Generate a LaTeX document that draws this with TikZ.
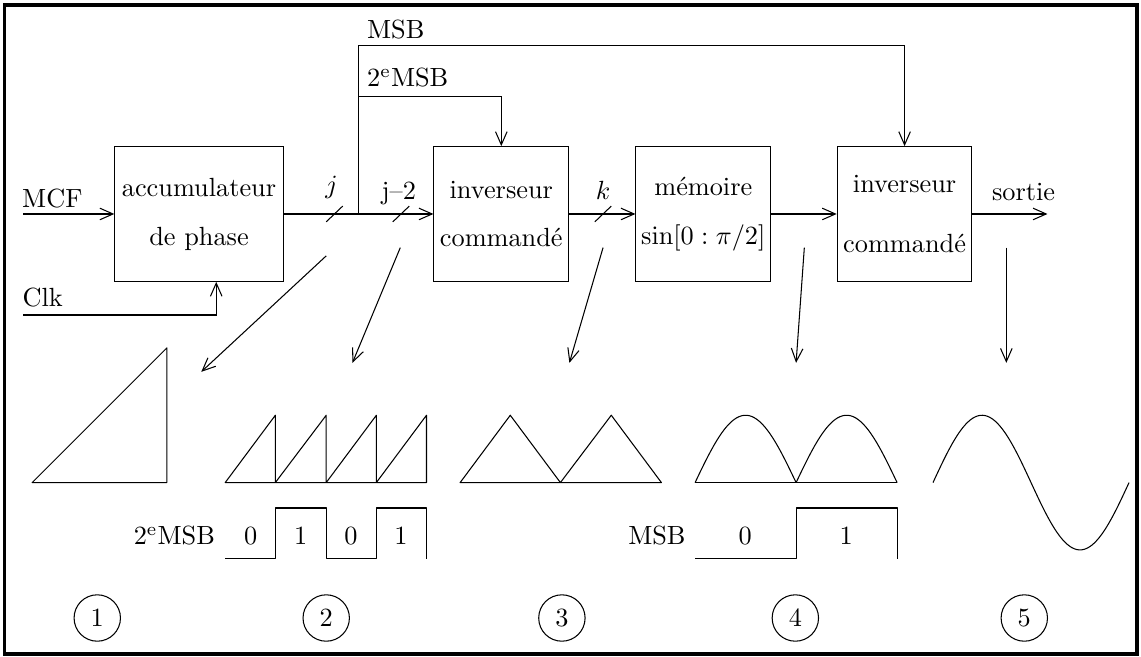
\documentclass[tikz,border=0pt]{standalone}
\usetikzlibrary{arrows.meta}
\tikzset{
    mybloc/.style = {rectangle, draw=black, align=center, minimum width=1.8cm, minimum height=1.8cm, inner sep=2pt},
    mynum/.style = {circle, draw=black, minimum size=0.62cm, inner sep=0pt},
    mytext/.style = {inner sep=0pt},
    edgef/.style = {-{Straight Barb[length=5pt,width=4.4pt]},black},
    edgen/.style = {-,black},
    edgew/.style = {-,black,line join=round},
    edgec/.style = {-,line width=1.5pt,black}
}
\begin{document}
\begin{tikzpicture}[scale=1.00]
%
\node[mybloc, minimum width=2.25cm] at (2.66,5.92) (acc) {accumulateur\\[6.6pt]de phase};
\node[mybloc] at (6.70,5.92) (inv1) {inverseur\\[6.6pt]command\'e};
\node[mybloc] at (9.40,5.92) (mem) {m\'emoire\\[6.6pt]$\sin[0:\pi/2]$};
\node[mybloc] at (12.09,5.92) (inv2) {inverseur\\[10.8pt]command\'e};
%
\node[mytext] at (0.70,6.13) (lmcf) {MCF};
\node[mytext] at (0.57,4.80) (lclk) {Clk};
\node[mytext] at (4.43,6.28) (lj) {$j$};
\node[mytext] at (5.33,6.20) (lj2) {j--2};
\node[mytext] at (8.06,6.24) (lk) {$k$};
\node[mytext] at (13.68,6.22) (lout) {sortie};
\node[mytext] at (5.29,8.38) (lmsb) {MSB};
\node[mytext] at (5.45,7.74) (lmsbb) {2\textsuperscript{e}MSB};
%
\coordinate (mcf) at (0.31,5.92);
\coordinate (clk) at (0.31,4.57);
\coordinate (br) at (4.79,5.92);
\coordinate (msbh) at (4.79,8.17);
\coordinate (msbm) at (4.79,7.49);
\coordinate (out) at (14.00,5.92);
%
\draw[edgef] (mcf) -- (acc.west);
\draw[edgef] (clk) -| ([xshift=0.23cm]acc.south);
\draw[edgef] (acc.east) -- (inv1.west);
\draw[edgen] (br) -- (msbh);
\draw[edgef] (msbh) -| (inv2.north);
\draw[edgef] (msbm) -| (inv1.north);
\draw[edgef] (inv1.east) -- (mem.west);
\draw[edgef] (mem.east) -- (inv2.west);
\draw[edgef] (inv2.east) -- (out);
%
\draw[edgen] (4.36,5.815) -- ++(0.22,0.21);
\draw[edgen] (5.25,5.815) -- ++(0.22,0.21);
\draw[edgen] (7.95,5.815) -- ++(0.22,0.21);
%
\coordinate (p1) at (4.36,5.36);
\coordinate (q1) at (2.69,3.81);
\coordinate (p2) at (5.35,5.47);
\coordinate (q2) at (4.71,3.93);
\coordinate (p3) at (8.06,5.47);
\coordinate (q3) at (7.61,3.93);
\coordinate (p4) at (10.75,5.47);
\coordinate (q4) at (10.64,3.93);
\coordinate (p5) at (13.45,5.47);
\coordinate (q5) at (13.45,3.93);
\draw[edgef] (p1) -- (q1);
\draw[edgef] (p2) -- (q2);
\draw[edgef] (p3) -- (q3);
\draw[edgef] (p4) -- (q4);
\draw[edgef] (p5) -- (q5);
%
\draw[edgew] (0.43,2.33) -- (2.23,2.33) -- (2.23,4.13) -- cycle;
\draw[edgew] (3.01,2.33) -- (3.68,3.23) -- (3.68,2.33) -- (4.36,3.23) -- (4.36,2.33) -- (5.03,3.23) -- (5.03,2.33) -- (5.70,3.23) -- (5.70,2.33) -- cycle;
\draw[edgew] (6.15,2.33) -- (6.82,3.23) -- (7.49,2.33) -- (8.17,3.23) -- (8.84,2.33) -- cycle;
\draw[edgew] (9.29,2.33) -- (11.99,2.33);
\draw[edgew, domain=0:180, samples=40, smooth] plot ({9.29+1.35*\x/180}, {2.33+0.9*sin(\x)});
\draw[edgew, domain=0:180, samples=40, smooth] plot ({10.64+1.35*\x/180}, {2.33+0.9*sin(\x)});
\draw[edgew, domain=0:360, samples=80, smooth] plot ({12.47+2.62*\x/360}, {2.33+0.9*sin(\x)});
%
\draw[edgew] (3.01,1.31) -- (3.68,1.31) -- (3.68,1.99) -- (4.36,1.99) -- (4.36,1.31) -- (5.03,1.31) -- (5.03,1.99) -- (5.70,1.99) -- (5.70,1.31);
\node[mytext] at (2.33,1.62) (lbits) {2\textsuperscript{e}MSB};
\node[mytext] at (3.35,1.62) (b1) {0};
\node[mytext] at (4.02,1.62) (b2) {1};
\node[mytext] at (4.69,1.62) (b3) {0};
\node[mytext] at (5.36,1.62) (b4) {1};
\draw[edgew] (9.29,1.31) -- (10.64,1.31) -- (10.64,1.99) -- (11.99,1.99) -- (11.99,1.31);
\node[mytext] at (8.78,1.62) (lbit) {MSB};
\node[mytext] at (9.96,1.62) (c1) {0};
\node[mytext] at (11.31,1.62) (c2) {1};
%
\node[mynum] at (1.30,0.52) (n1) {1};
\node[mynum] at (4.36,0.52) (n2) {2};
\node[mynum] at (7.51,0.52) (n3) {3};
\node[mynum] at (10.63,0.52) (n4) {4};
\node[mynum] at (13.69,0.52) (n5) {5};
%
\draw[edgec] (0.06,0.04) rectangle (15.19,8.71);
\path[use as bounding box] (0,0) rectangle (15.25,8.78);

\end{tikzpicture}
\end{document}
